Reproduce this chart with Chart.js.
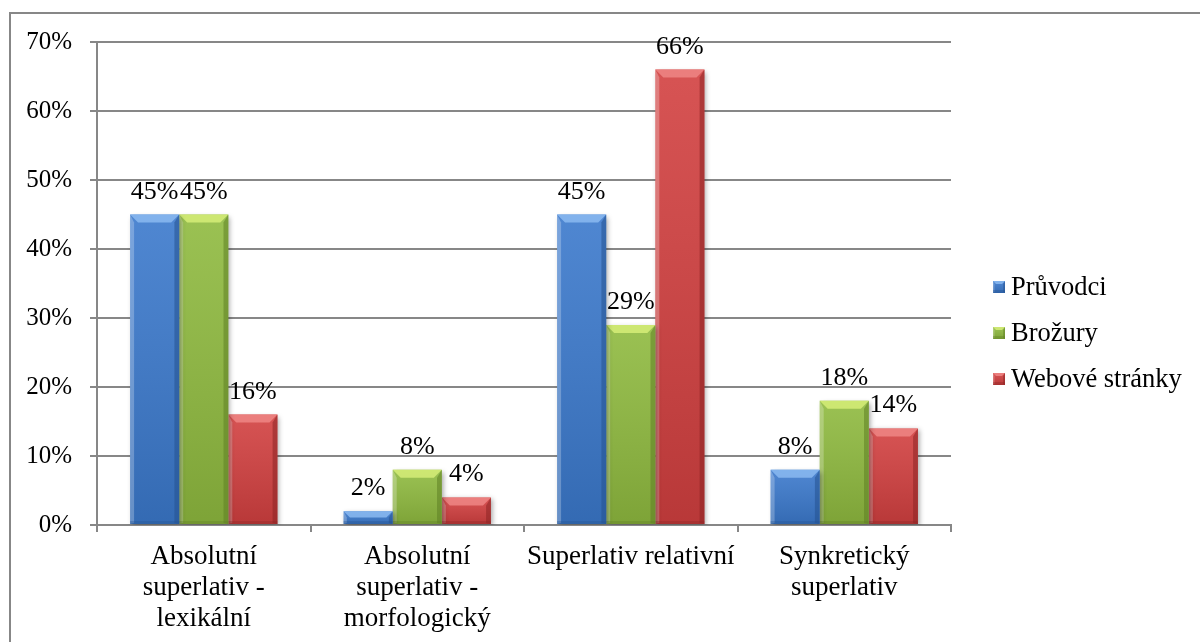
<!DOCTYPE html>
<html><head><meta charset="utf-8">
<script src="https://cdn.jsdelivr.net/npm/chart.js@4/dist/chart.umd.min.js"></script>
<style>html,body{margin:0;padding:0;background:#fff}#wrap{width:1200px;height:642px;position:relative}</style>
</head><body><div id="wrap"><canvas id="c" width="1200" height="642"></canvas></div>
<script>
// ---- data ----
const categories = [["Absolutní","superlativ -","lexikální"],["Absolutní","superlativ -","morfologický"],"Superlativ relativní",["Synkretický","superlativ"]];
const seriesNames = ["Průvodci","Brožury","Webové stránky"];
const pruvodci = [45, 2, 45, 8];
const brozury = [45, 8, 29, 18];
const weboveStranky = [16, 4, 66, 14];
const yMin = 0, yMax = 70, yStep = 10;

// ---- styles ----
const FONT = '"Liberation Serif", "Times New Roman", serif';
const FS_Y = 25, FS_X = 27, FS_LBL = 26, FS_LEG = 26.5;
const colors = ['#3b79cc', '#8fba3f', '#d24040'];
const lightTop = ['#8fbdf2', '#d9f07a', '#f08a88'];
const darkEdge = ['#24528f', '#5f7f24', '#8c2424'];
const GRID = '#878787';

const outerBorder = {
  id: 'outerBorder',
  beforeDraw(chart) {
    const c = chart.ctx; c.save();
    c.strokeStyle = GRID; c.lineWidth = 2;
    c.beginPath(); c.moveTo(10, 642); c.lineTo(10, 13); c.lineTo(1200, 13); c.stroke();
    c.restore();
  }
};

function bevel(c, x0, x1, y0, y1, i, b) {
  const w = x1 - x0, h = y1 - y0;
  if (h <= 0) return;
  b = Math.min(b, h / 2, w / 2);
  const g = c.createLinearGradient(0, y0, 0, y1);
  g.addColorStop(0, 'rgba(255,255,255,0.10)');
  g.addColorStop(1, 'rgba(0,0,0,0.12)');
  c.fillStyle = g; c.fillRect(x0, y0, w, h);
  c.fillStyle = lightTop[i]; c.globalAlpha = 0.8;
  c.beginPath(); c.moveTo(x0, y0); c.lineTo(x1, y0); c.lineTo(x1 - b, y0 + b); c.lineTo(x0 + b, y0 + b); c.closePath(); c.fill();
  c.globalAlpha = 0.25; c.fillStyle = '#ffffff';
  c.beginPath(); c.moveTo(x0, y0); c.lineTo(x0 + b * 0.5, y0 + b); c.lineTo(x0 + b * 0.5, y1 - 1); c.lineTo(x0, y1); c.closePath(); c.fill();
  c.globalAlpha = 0.55; c.fillStyle = darkEdge[i];
  c.beginPath(); c.moveTo(x1, y0); c.lineTo(x1 - b * 0.6, y0 + b); c.lineTo(x1 - b * 0.6, y1 - 1); c.lineTo(x1, y1); c.closePath(); c.fill();
  c.globalAlpha = 0.35; c.fillRect(x0, y1 - 3, w, 3);
  c.globalAlpha = 1;
}

const barStyle = {
  id: 'barStyle',
  beforeDatasetDraw(chart) {
    const c = chart.ctx; c.save();
    c.shadowColor = 'rgba(0,0,0,0.35)'; c.shadowBlur = 5; c.shadowOffsetX = 2; c.shadowOffsetY = 2;
  },
  afterDatasetDraw(chart, args) {
    const c = chart.ctx; c.restore();
    const i = args.index;
    const meta = chart.getDatasetMeta(i);
    c.save();
    meta.data.forEach(el => {
      const p = el.getProps(['x', 'y', 'base', 'width'], true);
      bevel(c, p.x - p.width / 2, p.x + p.width / 2, p.y, p.base, i, 8);
    });
    c.restore();
  }
};

const dataLabels = {
  id: 'dataLabels',
  afterDatasetsDraw(chart) {
    const c = chart.ctx; c.save();
    c.font = FS_LBL + 'px ' + FONT; c.fillStyle = '#000'; c.textAlign = 'center'; c.textBaseline = 'alphabetic';
    chart.data.datasets.forEach((ds, i) => {
      chart.getDatasetMeta(i).data.forEach((el, j) => {
        const p = el.getProps(['x', 'y'], true);
        c.fillText(ds.data[j] + '%', p.x, p.y - 16);
      });
    });
    c.restore();
  }
};

const customLegend = {
  id: 'customLegend',
  afterDraw(chart) {
    const c = chart.ctx; c.save();
    c.font = FS_LEG + 'px ' + FONT; c.textBaseline = 'middle'; c.textAlign = 'left';
    chart.data.datasets.forEach((ds, i) => {
      const cy = 287 + i * 46;
      const bx = 993, by = cy - 6, s = 12;
      c.fillStyle = colors[i]; c.fillRect(bx, by, s, s);
      bevel(c, bx, bx + s, by, by + s, i, 3);
      c.fillStyle = '#000';
      c.fillText(ds.label, 1011, cy + 1);
    });
    c.restore();
  }
};

const seriesData = [pruvodci, brozury, weboveStranky];
new Chart(document.getElementById('c'), {
  type: 'bar',
  data: {
    labels: categories,
    datasets: seriesNames.map((n, i) => ({
      label: n, data: seriesData[i], backgroundColor: colors[i], borderWidth: 0,
      categoryPercentage: 0.69, barPercentage: 1.0
    }))
  },
  options: {
    responsive: false, animation: false, devicePixelRatio: 1,
    layout: { padding: { top: 42, right: 249, left: 0, bottom: 0 } },
    plugins: { legend: { display: false }, tooltip: { enabled: false } },
    scales: {
      y: {
        min: yMin, max: yMax,
        ticks: { stepSize: yStep, callback: v => v + '%', font: { family: FONT, size: FS_Y }, color: '#000', padding: 18 },
        grid: { color: GRID, lineWidth: 2, tickLength: 7 },
        border: { display: true, color: GRID, width: 2 },
        afterFit: s => { s.width = 97; }
      },
      x: {
        ticks: { font: { family: FONT, size: FS_X, lineHeight: 1.15 }, color: '#000', padding: 9, maxRotation: 0, autoSkip: false },
        grid: { display: true, drawOnChartArea: false, drawTicks: true, tickLength: 7, color: GRID, lineWidth: 2, offset: true },
        border: { display: true, color: GRID, width: 2 },
        afterFit: s => { s.height = 117; }
      }
    }
  },
  plugins: [outerBorder, barStyle, dataLabels, customLegend]
});
</script></body></html>
